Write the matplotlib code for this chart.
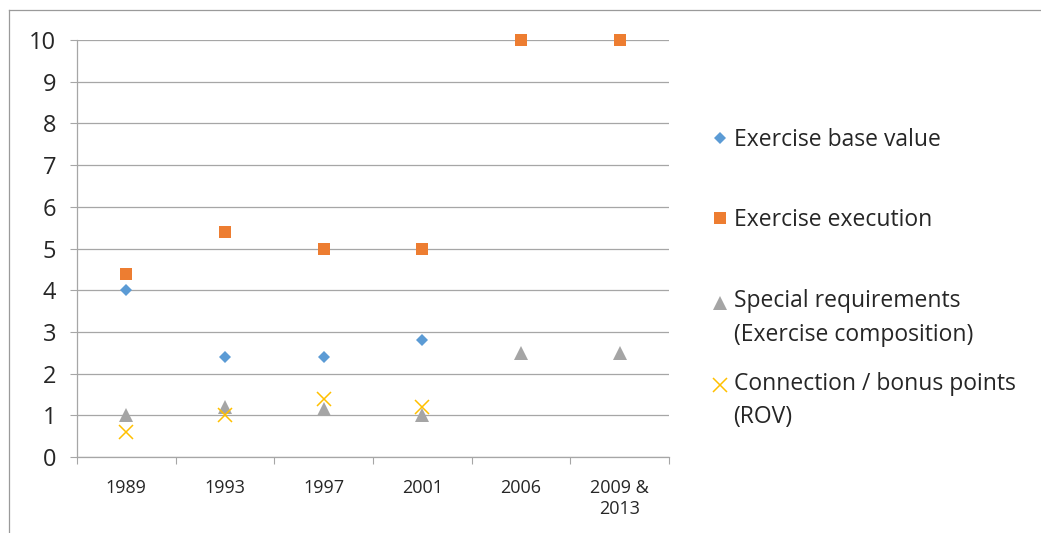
import numpy as np
import matplotlib
matplotlib.use("Agg")
import matplotlib.pyplot as plt
from matplotlib.lines import Line2D
from matplotlib.legend_handler import HandlerLine2D

# ── data ────────────────────────────────────────────────────────────────────
years = ["1989", "1993", "1997", "2001", "2006", "2009 &\n2013"]
base_value = [4.0, 2.4, 2.4, 2.8, np.nan, np.nan]
execution = [4.4, 5.4, 5.0, 5.0, 10.0, 10.0]
special_req = [1.0, 1.2, 1.15, 1.0, 2.5, 2.5]
connection = [0.6, 1.0, 1.4, 1.2, np.nan, np.nan]

series = [
    ("Exercise base value", base_value, "D", "#5B9BD5", 6.4),
    ("Exercise execution", execution, "s", "#ED7D31", 8.4),
    ("Special requirements\n(Exercise composition)", special_req, "^", "#A5A5A5", 9.5),
    ("Connection / bonus points\n(ROV)", connection, "x", "#FFC000", 9.6),
]

GRID = "#A6A6A6"
TEXT = "#262626"
plt.rcParams["font.family"] = ["Open Sans", "DejaVu Sans"]


class FirstLineHandler(HandlerLine2D):
    """Put the legend marker next to the first line of a multi-line label."""

    def __init__(self, lift=0.0, **kw):
        super().__init__(**kw)
        self.lift = lift

    def create_artists(self, legend, orig_handle, xdescent, ydescent,
                       width, height, fontsize, trans):
        arts = super().create_artists(legend, orig_handle, xdescent, ydescent,
                                      width, height, fontsize, trans)
        for a in arts:
            a.set_ydata(np.asarray(a.get_ydata(), float) + self.lift * fontsize)
        return arts


fig = plt.figure(figsize=(10.41, 5.33), dpi=100)
ax = fig.add_axes([77 / 1041, 1 - 457 / 533, 592 / 1041, 417 / 533])

xs = np.arange(len(years))
handles = []
for label, vals, mk, col, ms in series:
    mew = 1.1 if mk == "x" else 0
    h, = ax.plot(xs, vals, linestyle="none", marker=mk, color=col,
                 markersize=ms, markeredgewidth=mew, label=label, clip_on=False)
    handles.append(h)

ax.set_xlim(-0.5, len(years) - 0.5)
ax.set_ylim(0, 10)
ax.set_yticks(range(0, 11))
ax.tick_params(axis="y", length=5, width=0.8, color=GRID, labelsize=17,
               labelcolor=TEXT, pad=10)

ax.set_xticks(np.arange(-0.5, len(years), 1.0))
ax.set_xticklabels([])
ax.set_xticks(xs, minor=True)
ax.set_xticklabels(years, minor=True)
ax.tick_params(axis="x", which="major", length=5, width=0.8, color=GRID)
ax.tick_params(axis="x", which="minor", length=0, labelsize=13,
               labelcolor=TEXT, pad=16)

ax.grid(axis="y", color=GRID, linewidth=0.9)
ax.set_axisbelow(True)
for s in ("top", "right"):
    ax.spines[s].set_visible(False)
for s in ("left", "bottom"):
    ax.spines[s].set_color(GRID)
    ax.spines[s].set_linewidth(0.9)

# legend, one box per entry so spacing follows the original
tops = [0.759, 0.609, 0.457, 0.303]
for h, top in zip(handles, tops):
    lift = 0.70 if "\n" in h.get_label() else 0.0
    leg = fig.legend(handles=[h], labels=[h.get_label()], loc="upper left",
                     bbox_to_anchor=(0.686, top), frameon=False,
                     handlelength=0.55, handletextpad=0.3, borderpad=0,
                     borderaxespad=0, labelcolor=TEXT,
                     handler_map={h: FirstLineHandler(lift=lift)},
                     prop={"size": 16.5})
    for t in leg.get_texts():
        t.set_linespacing(1.55)

# outer chart border (top and left edges visible)
fig.add_artist(Line2D([9 / 1041, 9 / 1041], [0, 1 - 10 / 533],
                      transform=fig.transFigure, color="#9A9A9A", linewidth=0.9))
fig.add_artist(Line2D([9 / 1041, 1], [1 - 10 / 533, 1 - 10 / 533],
                      transform=fig.transFigure, color="#9A9A9A", linewidth=0.9))

fig.savefig("out.png", dpi=100)
